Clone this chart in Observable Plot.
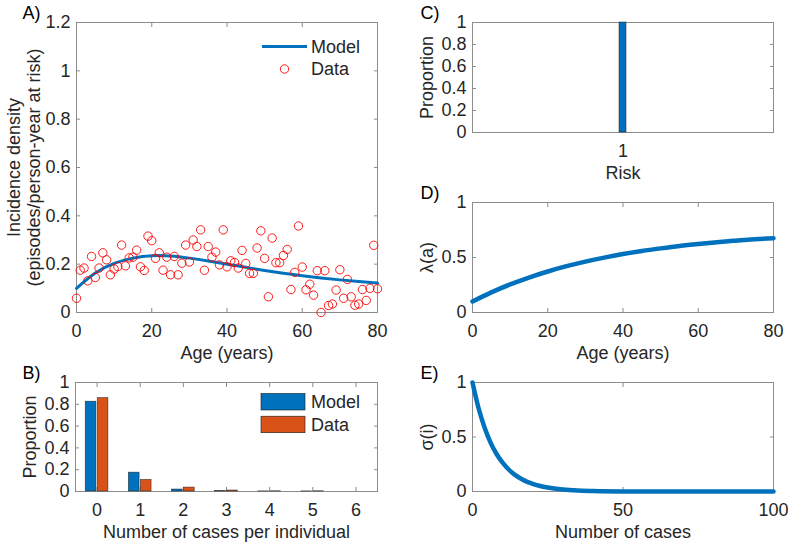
<!DOCTYPE html>
<html><head><meta charset="utf-8">
<script src="https://cdn.jsdelivr.net/npm/d3@7"></script>
<script src="https://cdn.jsdelivr.net/npm/@observablehq/plot@0.6"></script>
<style>
body{margin:0;background:#fff;}
#wrap{position:relative;width:788px;height:542px;overflow:hidden;background:#fff;}
</style></head><body><div id="wrap"></div>
<script>
// ===== Panel A: incidence density by age =====
const ageData = [0,1,2,3,4,5,6,7,8,9,10,11,12,13,14,15,16,17,18,19,20,21,22,23,24,25,26,27,28,29,30,31,32,33,34,35,36,37,38,39,40,41,42,43,44,45,46,47,48,49,50,51,52,53,54,55,56,57,58,59,60,61,62,63,64,65,66,67,68,69,70,71,72,73,74,75,76,77,78,79,80];
const incidenceData = [0.059,0.175,0.184,0.131,0.232,0.145,0.184,0.247,0.218,0.156,0.18,0.19,0.279,0.193,0.226,0.229,0.258,0.189,0.174,0.316,0.297,0.224,0.247,0.175,0.229,0.156,0.232,0.156,0.204,0.279,0.209,0.3,0.273,0.342,0.175,0.273,0.229,0.25,0.197,0.342,0.189,0.214,0.207,0.184,0.257,0.203,0.162,0.162,0.267,0.338,0.224,0.065,0.308,0.206,0.206,0.236,0.261,0.095,0.166,0.358,0.188,0.094,0.117,0.072,0.173,0.0,0.173,0.029,0.035,0.093,0.177,0.059,0.137,0.065,0.03,0.035,0.095,0.05,0.1,0.278,0.098];
const ageModel = [0,5,10,15,20,25,30,35,40,45,50,55,60,65,70,75,80];
const incidenceModel = [0.100,0.163,0.203,0.225,0.235,0.234,0.225,0.213,0.200,0.187,0.174,0.162,0.152,0.143,0.135,0.128,0.122];

// ===== Panel B: number of cases per individual =====
const casesPerIndividual = [0,1,2,3,4,5,6];
const propModel = [0.824,0.173,0.018,0.003,0.001,0.001,0.0];
const propData  = [0.857,0.106,0.036,0.009,0.002,0.002,0.0];
const seriesB = ["Model","Data"];

// ===== Panel C: risk =====
const riskLevels = ["1"];
const riskProportion = [1];

// ===== Panel D: lambda(a) =====
const ageLambda = [0,5,10,15,20,25,30,35,40,45,50,55,60,65,70,75,80];
const lambdaValues = [0.100,0.183,0.255,0.318,0.373,0.421,0.463,0.499,0.531,0.559,0.583,0.605,0.623,0.639,0.653,0.666,0.676];

// ===== Panel E: sigma(i) =====
const numCases = [0,2,4,6,8,10,12,14,16,18,20,25,30,35,40,50,60,70,80,90,100];
const sigmaValues = [1,0.766,0.587,0.449,0.344,0.264,0.202,0.155,0.119,0.091,0.070,0.036,0.018,0.009,0.005,0.001,0,0,0,0,0];

// ===== tick values =====
const ticksAgeX = [0,20,40,60,80];
const ticksIncY = [0,0.2,0.4,0.6,0.8,1,1.2];
const ticksPropY = [0,0.2,0.4,0.6,0.8,1];
const ticksCasesB = [0,1,2,3,4,5,6];
const ticksHalfY = [0,0.5,1];
const ticksCasesE = [0,50,100];

const W = 788, H = 542;
const FONT = "'Liberation Sans', Arial, Helvetica, sans-serif";
const TXT = "#262626", FR = "#8c8c8c";
const BLUE = "#0072BD", ORANGE = "#D95319", RED = "#FF0000";
const fmt = d => typeof d === "number" ? d3.format("~g")(d) : d;

function panel({frame:[l,t,r,b], x, y, xTicks, yTicks, xLabel, yLabel, yLabelDx, lineHeight=1, letter, letterDx, marks}) {
  return Plot.plot({
    width: W, height: H,
    marginLeft: l, marginTop: t, marginRight: W - r, marginBottom: H - b,
    x, y,
    style: {position:"absolute", left:"0px", top:"0px", background:"transparent", overflow:"visible", fontFamily: FONT, fontSize:"18px", color: TXT},
    marks: [
      Plot.frame({stroke: FR, strokeWidth: 1}),
      Plot.axisX(xTicks, {anchor:"bottom", tickSize:-4, tickPadding:16, stroke:FR, fill:TXT, fontSize:18, tickFormat: fmt, label:null}),
      Plot.axisX(xTicks, {anchor:"top", tickSize:-4, stroke:FR, tickFormat: () => "", label:null}),
      Plot.axisY(yTicks, {anchor:"left", tickSize:-4, tickPadding:10, stroke:FR, fill:TXT, fontSize:18, tickFormat: fmt, label:null}),
      Plot.axisY(yTicks, {anchor:"right", tickSize:-4, stroke:FR, tickFormat: () => "", label:null}),
      Plot.text([xLabel], {text: d => d, frameAnchor:"bottom", dy:41, fill:TXT, fontSize:18, textAnchor:"middle", lineAnchor:"middle"}),
      Plot.text([yLabel], {text: d => d, frameAnchor:"left", dx:yLabelDx, rotate:-90, fill:TXT, fontSize:18, textAnchor:"middle", lineAnchor:"middle", lineHeight}),
      Plot.text([letter], {text: d => d, frameAnchor:"top-left", dx:letterDx, dy:-9, textAnchor:"start", lineAnchor:"middle", fill:"#000", fontSize:18}),
      ...marks
    ]
  });
}

const wrap = document.getElementById("wrap");

// Panel A
const ptsA = ageData.map((a, i) => ({age: a, v: incidenceData[i]}));
const lineA = ageModel.map((a, i) => ({age: a, v: incidenceModel[i]}));
wrap.append(panel({
  frame:[76,22,377,312],
  x:{domain:[0,80]}, y:{domain:[0,1.2]},
  xTicks: ticksAgeX, yTicks: ticksIncY,
  xLabel:"Age (years)", yLabel:"Incidence density\n(episodes/person-year at risk)", yLabelDx:-53, lineHeight:1.1,
  letter:"A)", letterDx:-54,
  marks:[
    Plot.line(lineA, {x:"age", y:"v", stroke:BLUE, strokeWidth:3, curve:"natural"}),
    Plot.dot(ptsA, {x:"age", y:"v", r:4.2, stroke:RED, strokeWidth:0.9, fill:"none"})
  ]
}));

// Panel B
const barsB = [];
casesPerIndividual.forEach((c, i) => {
  barsB.push({cases:c, series:"Model", v:propModel[i]});
  barsB.push({cases:c, series:"Data", v:propData[i]});
});
const offB = {Model:-0.139, Data:0.139}, halfW = 0.124;
wrap.append(panel({
  frame:[75,382,377,491],
  x:{domain:[-0.5,6.5]}, y:{domain:[0,1]},
  xTicks: ticksCasesB, yTicks: ticksPropY,
  xLabel:"Number of cases per individual", yLabel:"Proportion", yLabelDx:-45,
  letter:"B)", letterDx:-53,
  marks:[
    Plot.rectY(barsB, {x1: d => d.cases + offB[d.series] - halfW, x2: d => d.cases + offB[d.series] + halfW, y:"v",
      fill: d => d.series === "Model" ? BLUE : ORANGE, stroke:"#1a1a1a", strokeWidth:0.6, strokeOpacity:0.8})
  ]
}));

// Panel C
wrap.append(panel({
  frame:[472,22,773,132],
  x:{type:"band", domain:riskLevels, padding:0.9545}, y:{domain:[0,1]},
  xTicks: riskLevels, yTicks: ticksPropY,
  xLabel:"Risk", yLabel:"Proportion", yLabelDx:-45,
  letter:"C)", letterDx:-52,
  marks:[
    Plot.barY(riskLevels.map((r, i) => ({r, v: riskProportion[i]})), {x:"r", y:"v", fill:BLUE, stroke:"#1a1a1a", strokeWidth:0.6, strokeOpacity:0.8})
  ]
}));

// Panel D
wrap.append(panel({
  frame:[472,202,773,312],
  x:{domain:[0,80]}, y:{domain:[0,1]},
  xTicks: ticksAgeX, yTicks: ticksHalfY,
  xLabel:"Age (years)", yLabel:"λ(a)", yLabelDx:-45,
  letter:"D)", letterDx:-52,
  marks:[
    Plot.line(ageLambda.map((a, i) => ({a, v: lambdaValues[i]})), {x:"a", y:"v", stroke:BLUE, strokeWidth:4.5, curve:"natural"})
  ]
}));

// Panel E
wrap.append(panel({
  frame:[472,382,773,491],
  x:{domain:[0,100]}, y:{domain:[0,1]},
  xTicks: ticksCasesE, yTicks: ticksHalfY,
  xLabel:"Number of cases", yLabel:"σ(i)", yLabelDx:-45,
  letter:"E)", letterDx:-52,
  marks:[
    Plot.line(numCases.map((n, i) => ({n, v: sigmaValues[i]})), {x:"n", y:"v", stroke:BLUE, strokeWidth:4.5, curve:"monotone-x"})
  ]
}));

// Legends (overlay)
const leg = d3.select(wrap).append("svg").attr("width", W).attr("height", H)
  .style("position","absolute").style("left","0px").style("top","0px")
  .style("font-family", FONT).style("font-size","18px");
// Legend A
leg.append("line").attr("x1",262).attr("x2",307).attr("y1",46.5).attr("y2",46.5).attr("stroke",BLUE).attr("stroke-width",3);
leg.append("circle").attr("cx",284.5).attr("cy",69).attr("r",4.2).attr("fill","none").attr("stroke",RED).attr("stroke-width",0.9);
leg.append("text").attr("x",311).attr("y",46.5).attr("dy","0.35em").attr("fill",TXT).text("Model");
leg.append("text").attr("x",311).attr("y",69).attr("dy","0.35em").attr("fill",TXT).text("Data");
// Legend B
leg.append("rect").attr("x",261).attr("y",393.5).attr("width",44).attr("height",16.5).attr("fill",BLUE).attr("stroke","#1a1a1a").attr("stroke-width",0.6);
leg.append("rect").attr("x",261).attr("y",416.2).attr("width",44).attr("height",16.5).attr("fill",ORANGE).attr("stroke","#1a1a1a").attr("stroke-width",0.6);
leg.append("text").attr("x",311).attr("y",402).attr("dy","0.35em").attr("fill",TXT).text("Model");
leg.append("text").attr("x",311).attr("y",424.5).attr("dy","0.35em").attr("fill",TXT).text("Data");
</script>
</body></html>
